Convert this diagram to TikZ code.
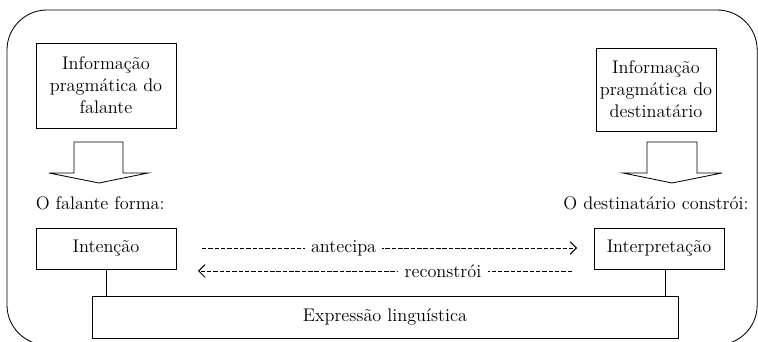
\documentclass[tikz,border=0pt]{standalone}
\usepackage{tikz}
\usetikzlibrary{arrows.meta}
\usetikzlibrary{positioning}

\tikzset{
caixa/.style={draw,line width=0.6pt,align=center,font=\fontsize{13}{15.6}\selectfont,inner sep=2pt},
rotulo/.style={font=\fontsize{13}{15.6}\selectfont,inner sep=1pt},
tracejado/.style={line width=0.65pt,dash pattern=on 3.2pt off 1.3pt},
seta/.style={-{Straight Barb[length=4.5pt,width=9pt,line width=0.75pt]}},
}

\begin{document}
\begin{tikzpicture}[line width=0.6pt]
\useasboundingbox (0,0) rectangle (18.95,8.55);
\begin{scope}
\clip (0,0) rectangle (18.95,8.55);
\draw[rounded corners=1cm] (0.175,-0.075) rectangle (18.93,8.3);
\end{scope}

\node[caixa,minimum width=3.5cm,minimum height=2.125cm] (infoF) at (2.65,6.4125) {Informação\\pragmática do\\falante};
\node[caixa,minimum width=3.0cm,minimum height=2.075cm] (infoD) at (16.4,6.3125) {Informação\\pragmática do\\destinatário};

% setas largas
\draw (1.85,5.0) -- (3.075,5.0) -- (3.075,4.225) -- (3.7,4.225) -- (2.475,3.975) -- (1.225,4.225) -- (1.85,4.225) -- cycle;
\draw (16.175,5.0) -- (17.425,5.0) -- (17.425,4.225) -- (18.05,4.225) -- (16.8,3.975) -- (15.575,4.225) -- (16.175,4.225) -- cycle;

\node[rotulo,anchor=west] (formaF) at (0.85,3.475) {O falante forma:};
\node[rotulo] (formaD) at (16.4,3.475) {O destinatário constrói:};

\node[caixa,minimum width=3.5cm,minimum height=1.025cm] (int) at (2.65,2.3375) {Intenção};
\node[caixa,minimum width=3.25cm,minimum height=1.025cm] (interp) at (16.475,2.3375) {Interpretação};
\node[caixa,minimum width=14.65cm,minimum height=1.05cm] (expr) at (9.625,0.625) {Expressão linguística};

\draw (int.south) -- (int.south |- expr.north);
\draw ([xshift=0.15cm]interp.south) -- ([xshift=0.15cm]interp.south |- expr.north);

% antecipa / reconstroi
\coordinate (a1) at (5.05,2.35);
\coordinate (a2) at (14.43,2.35);
\coordinate (r1) at (14.3,1.775);
\coordinate (r2) at (4.95,1.775);
\draw[tracejado,seta] (a1) -- (a2);
\draw[tracejado,seta] (r1) -- (r2);
\node[rotulo,fill=white,inner xsep=4.5pt] (ant) at (8.59,2.35) {antecipa};
\node[rotulo,fill=white,inner xsep=4.5pt] (rec) at (11.075,1.775) {reconstrói};

\end{tikzpicture}
\end{document}
